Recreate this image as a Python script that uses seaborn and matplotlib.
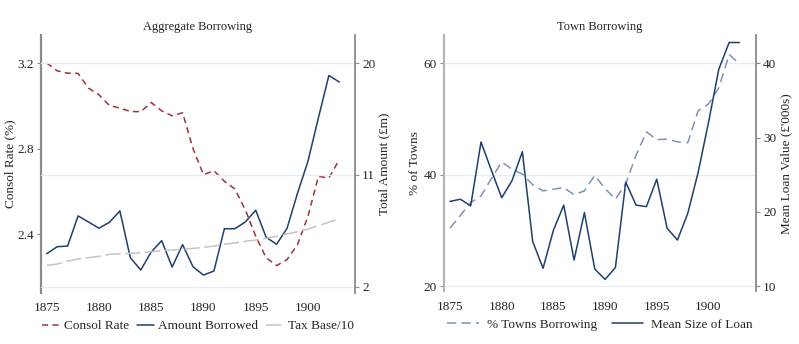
import numpy as np
import pandas as pd
import matplotlib
matplotlib.use("Agg")
import matplotlib.pyplot as plt
import seaborn as sns

# --- Data ---
years = list(range(1875, 1904))
consol_rate = [3.20, 3.164, 3.153, 3.152, 3.083, 3.052, 3.002, 2.99, 2.974, 2.973,
               3.016, 2.977, 2.954, 2.968, 2.80, 2.679, 2.697, 2.648, 2.612, 2.515,
               2.391, 2.29, 2.254, 2.282, 2.352, 2.484, 2.671, 2.663, 2.749]
amount_borrowed = [4.66, 5.22, 5.28, 7.70, 7.21, 6.71, 7.19, 8.10, 4.34, 3.35,
                   4.80, 5.71, 3.59, 5.39, 3.61, 2.94, 3.27, 6.67, 6.67, 7.21,
                   8.16, 5.98, 5.42, 6.71, 9.53, 12.1, 15.6, 19.0, 18.47]
tax_base_10 = [3.72, 3.83, 4.07, 4.23, 4.34, 4.45, 4.61, 4.66, 4.69, 4.74,
               4.82, 4.90, 4.96, 5.01, 5.09, 5.17, 5.28, 5.42, 5.52, 5.66,
               5.76, 5.90, 6.06, 6.25, 6.43, 6.65, 6.92, 7.19, 7.48]
pct_towns = [30.4, 32.7, 35.0, 36.2, 39.3, 42.3, 41.0, 40.1, 38.2, 37.1,
             37.4, 37.7, 36.4, 37.1, 39.9, 37.5, 35.6, 38.4, 43.5, 47.7,
             46.3, 46.4, 45.9, 45.75, 51.5, 52.7, 55.6, 61.6, 59.9]
mean_loan = [21.4, 21.7, 20.8, 29.4, 25.6, 21.9, 24.2, 28.1, 16.0, 12.4,
             17.5, 20.9, 13.5, 19.9, 12.3, 10.9, 12.5, 24.0, 20.9, 20.7,
             24.4, 17.8, 16.2, 19.8, 25.3, 32.0, 39.2, 42.8, 42.8]
year_ticks = [1875, 1880, 1885, 1890, 1895, 1900]

df = pd.DataFrame({"year": years, "consol": consol_rate, "amount": amount_borrowed,
                   "tax": tax_base_10, "towns": pct_towns, "loan": mean_loan})

# --- Style ---
sns.set_style("white")
plt.rcParams["font.family"] = ["Liberation Serif", "DejaVu Serif"]
plt.rcParams["font.size"] = 9

RED = "#9e3336"
NAVY = "#1f3f6e"
GREY = "#c4c4c4"
STEEL = "#7d94b4"
GRID = "#e6eef2"
SPINE = "#8a8a8a"

fig = plt.figure(figsize=(7.99, 3.44), dpi=100)
axL = fig.add_axes([0.0513, 0.149, 0.393, 0.749])
axR = fig.add_axes([0.5557, 0.153, 0.3905, 0.745])


def style_axes(ax, ax2, left_color, right_color):
    for a in (ax, ax2):
        a.spines["top"].set_visible(False)
        a.spines["bottom"].set_visible(False)
        a.set_xlabel("")
        a.tick_params(axis="both", labelsize=9.5, length=3, width=0.8, color=SPINE, pad=2)
    ax.spines["right"].set_visible(False)
    ax.spines["left"].set_color(left_color)
    ax.spines["left"].set_linewidth(1.6)
    ax2.spines["left"].set_visible(False)
    ax2.spines["right"].set_color(right_color)
    ax2.spines["right"].set_linewidth(1.3)
    ax.set_xticks(year_ticks)
    ax.tick_params(axis="x", length=4, pad=3)


# --- Left panel: aggregate borrowing ---
axL2 = axL.twinx()
sns.lineplot(data=df, x="year", y="consol", ax=axL, color=RED, lw=1.1,
             label="Consol Rate", legend=False)
axL.lines[-1].set_dashes([4, 2.8])
sns.lineplot(data=df, x="year", y="amount", ax=axL2, color=NAVY, lw=1.1,
             label="Amount Borrowed", legend=False)
sns.lineplot(data=df, x="year", y="tax", ax=axL2, color=GREY, lw=1.1,
             label="Tax Base/10", legend=False)
axL2.lines[-1].set_dashes([10, 3])

axL.set_xlim(1874.45, 1904.5)
axL.set_ylim(2.127, 3.331)
axL.set_yticks([2.4, 2.8, 3.2])
axL2.set_ylim(1.52, 22.25)
axL2.set_yticks([2, 11, 20])
axL2.yaxis.grid(True, color=GRID, lw=0.9)
axL.set_ylabel("Consol Rate (%)", fontsize=9.5, labelpad=1)
axL2.set_ylabel("Total Amount (£m)", fontsize=9.5, labelpad=2)
axL.set_title("Aggregate Borrowing", fontsize=9, pad=4)
style_axes(axL, axL2, SPINE, SPINE)

hL = axL.get_lines() + axL2.get_lines()
axL.legend(hL, [h.get_label() for h in hL], loc="center",
           bbox_to_anchor=(0.5, -0.13), ncol=3, frameon=False, fontsize=9.5,
           handlelength=1.3, columnspacing=0.6, handletextpad=0.35)

# --- Right panel: town borrowing ---
axR2 = axR.twinx()
sns.lineplot(data=df, x="year", y="towns", ax=axR, color=STEEL, lw=1.1,
             label="% Towns Borrowing", legend=False)
axR.lines[-1].set_dashes([6, 3.5])
sns.lineplot(data=df, x="year", y="loan", ax=axR2, color=NAVY, lw=1.1,
             label="Mean Size of Loan", legend=False)

axR.set_xlim(1874.42, 1904.6)
axR.set_ylim(19.05, 65.08)
axR.set_yticks([20, 40, 60])
axR.yaxis.grid(True, color=GRID, lw=0.9)
axR2.set_ylim(9.29, 43.8)
axR2.set_yticks([10, 20, 30, 40])
axR.set_ylabel("% of Towns", fontsize=9.5, labelpad=2)
axR2.set_ylabel("Mean Loan Value (£'000s)", fontsize=9.5, labelpad=3)
axR.set_title("Town Borrowing", fontsize=9, pad=4)
style_axes(axR, axR2, "#b5b5b5", SPINE)

hR = axR.get_lines() + axR2.get_lines()
axR.legend(hR, [h.get_label() for h in hR], loc="center",
           bbox_to_anchor=(0.5, -0.13), ncol=2, frameon=False, fontsize=9.5,
           handlelength=2.4, columnspacing=1.1, handletextpad=0.6)

fig.savefig("out.png", dpi=100)
